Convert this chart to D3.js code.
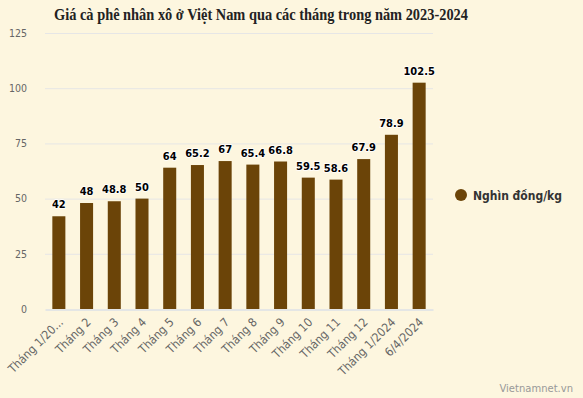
<!DOCTYPE html>
<html>
<head>
<meta charset="utf-8">
<script src="https://cdn.jsdelivr.net/npm/d3@7"></script>
<style>
  body { margin: 0; background: #fdf6df; }
  svg { display: block; font-family: "DejaVu Sans Condensed", "DejaVu Sans", sans-serif; }
</style>
</head>
<body>
<div id="viz"></div>
<script>
var months = ['Tháng 1/2023', 'Tháng 2', 'Tháng 3', 'Tháng 4', 'Tháng 5', 'Tháng 6', 'Tháng 7',
  'Tháng 8', 'Tháng 9', 'Tháng 10', 'Tháng 11', 'Tháng 12', 'Tháng 1/2024', '6/4/2024'];
var prices = [42, 48, 48.8, 50, 64, 65.2, 67, 65.4, 66.8, 59.5, 58.6, 67.9, 78.9, 102.5];
var yTicks = [0, 25, 50, 75, 100, 125];
var seriesName = 'Nghìn đồng/kg';
var title = 'Giá cà phê nhân xô ở Việt Nam qua các tháng trong năm 2023-2024';

var width = 583, height = 398,
  margin = { top: 33, right: 150, bottom: 89, left: 45 };

var svg = d3.select('#viz').append('svg')
  .attr('width', width)
  .attr('height', height);

svg.append('rect')
  .attr('width', width).attr('height', height)
  .attr('fill', '#fdf6df');

var xScale = d3.scaleBand()
  .domain(months)
  .range([margin.left, width - margin.right])
  .paddingInner(0.53)
  .paddingOuter(0.265);

var yScale = d3.scaleLinear()
  .domain([0, 125])
  .range([height - margin.bottom, margin.top]);

// grid
svg.append('g')
  .selectAll('line').data(yTicks.slice(1))
  .enter().append('line')
  .attr('x1', margin.left)
  .attr('x2', width - margin.right)
  .attr('y1', function(d) { return yScale(d) + 0.5; })
  .attr('y2', function(d) { return yScale(d) + 0.5; })
  .attr('stroke', '#e6e6e6')
  .attr('stroke-width', 1);

// y axis labels
var yAxis = d3.axisLeft(yScale).tickValues(yTicks).tickSize(0).tickPadding(18);
var yGuide = svg.append('g')
  .attr('transform', 'translate(' + margin.left + ',0)')
  .call(yAxis);
yGuide.select('.domain').remove();
yGuide.selectAll('text')
  .attr('fill', '#666')
  .style('font-family', '"DejaVu Sans Condensed", sans-serif')
  .style('font-size', '10.5px');

// x axis
var xLabel = function(d, i) {
  return i === 0 ? d.slice(0, 10) + '...' : d;
};
var xAxis = d3.axisBottom(xScale).tickSize(0).tickFormat(xLabel);
var xGuide = svg.append('g')
  .attr('transform', 'translate(0,' + (height - margin.bottom) + ')')
  .call(xAxis);
xGuide.select('.domain')
  .attr('stroke', '#ccd6eb')
  .attr('transform', 'translate(0,0.5)');
xGuide.selectAll('text')
  .attr('fill', '#666')
  .style('font-family', '"DejaVu Sans Condensed", sans-serif')
  .style('font-size', '12px')
  .style('text-anchor', 'end')
  .attr('y', 0)
  .attr('dy', '0')
  .attr('transform', 'translate(5,14) rotate(-45)');

// bars
svg.append('g')
  .selectAll('rect').data(prices)
  .enter().append('rect')
  .attr('fill', '#6b4408')
  .attr('x', function(d, i) { return xScale(months[i]); })
  .attr('width', xScale.bandwidth())
  .attr('y', function(d) { return yScale(d); })
  .attr('height', function(d) { return yScale(0) - yScale(d); });

// data labels
svg.append('g')
  .selectAll('text').data(prices)
  .enter().append('text')
  .attr('x', function(d, i) { return xScale(months[i]) + xScale.bandwidth() / 2; })
  .attr('y', function(d) { return yScale(d) - 8; })
  .attr('text-anchor', 'middle')
  .style('font-size', '11px')
  .style('font-weight', 'bold')
  .attr('fill', '#000')
  .attr('stroke', '#fff')
  .attr('stroke-width', 1.5)
  .style('paint-order', 'stroke')
  .text(function(d) { return d; });

// title
svg.append('text')
  .attr('x', 261)
  .attr('y', 20)
  .attr('text-anchor', 'middle')
  .attr('textLength', 414)
  .attr('lengthAdjust', 'spacingAndGlyphs')
  .style('font-family', '"Liberation Serif", "Times New Roman", serif')
  .style('font-size', '16.5px')
  .style('font-weight', 'bold')
  .attr('fill', '#222')
  .text(title);

// legend
var legend = svg.append('g').attr('transform', 'translate(461,195)');
legend.append('circle').attr('r', 6).attr('fill', '#6b4408');
legend.append('text')
  .attr('x', 12).attr('y', 4.5)
  .style('font-size', '12px')
  .style('font-weight', 'bold')
  .attr('fill', '#333')
  .text(seriesName);

// credit
svg.append('text')
  .attr('x', 573).attr('y', 392)
  .attr('text-anchor', 'end')
  .style('font-family', '"DejaVu Sans", sans-serif')
  .style('font-size', '10px')
  .attr('fill', '#999')
  .text('Vietnamnet.vn');
</script>
</body>
</html>
